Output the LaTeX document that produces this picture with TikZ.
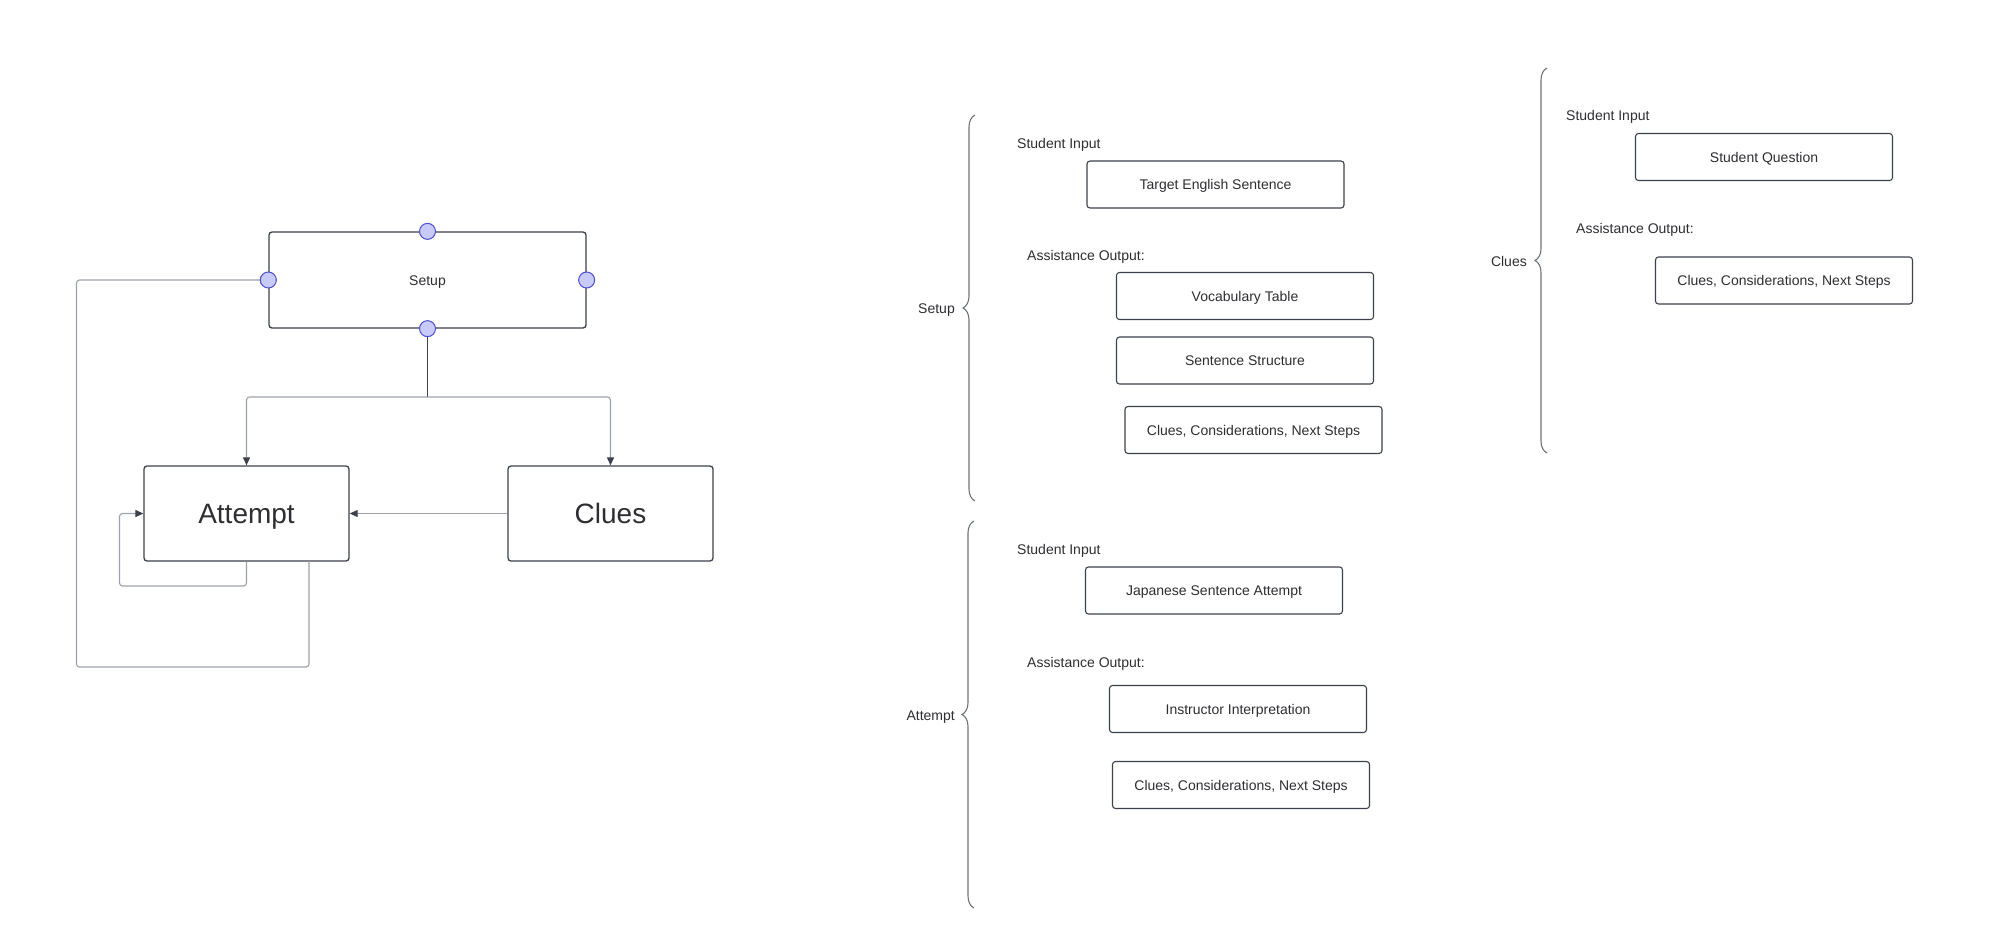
\documentclass[tikz,border=0pt]{standalone}
\usepackage{fontspec}
\setmainfont{Liberation Sans}
\usetikzlibrary{arrows.meta,decorations.pathreplacing}
\definecolor{boxline}{HTML}{3C414B}
\definecolor{conn}{HTML}{9EA2A8}
\definecolor{txt}{HTML}{2E2E33}
\definecolor{portfill}{HTML}{C8CAFA}
\definecolor{portline}{HTML}{4B50CF}
\definecolor{bracecol}{HTML}{6E727A}
\begin{document}
\begin{tikzpicture}[x=1pt,y=-1pt,
  every node/.style={text=txt,font=\fontsize{14}{16}\selectfont},
  mainbox/.style={draw=boxline,line width=1.3pt,rounded corners=3pt,fill=white,inner sep=0pt},
  bigtext/.style={font=\fontsize{28}{32}\selectfont,text height=20pt,text depth=0pt},
  smalltext/.style={text height=10pt,text depth=0pt},
  itembox/.style={draw=boxline,line width=1.1pt,rounded corners=3pt,fill=white,minimum width=257pt,minimum height=47pt,inner sep=0pt,smalltext},
  lbl/.style={anchor=west,inner sep=0pt,smalltext},
  port/.style={circle,draw=portline,fill=portfill,line width=1pt,minimum size=16pt,inner sep=0pt},
  link/.style={draw=conn,line width=1.1pt,rounded corners=3pt},
  tip/.style={-{Triangle[length=8pt,width=7pt]},arrows={-{Triangle[length=8pt,width=7pt,color=boxline]}}},
  curly/.style={draw=bracecol,line width=1.1pt,decorate,decoration={brace,amplitude=12pt}},
  sidelbl/.style={anchor=east,inner sep=0pt,smalltext}
]
\useasboundingbox[fill=white] (0,0) rectangle (1990,946);

% ---------------- left flow diagram ----------------
\node[mainbox,minimum width=317pt,minimum height=96pt,smalltext] (setup) at (427.5,280) {Setup};
\node[mainbox,minimum width=205pt,minimum height=95pt,bigtext] (attempt) at (246.5,513.5) {Attempt};
\node[mainbox,minimum width=205pt,minimum height=95pt,bigtext] (clues) at (610.5,513.5) {Clues};

\coordinate (junc) at (427.5,397);
\draw[draw=boxline,line width=1.1pt] (setup.south) -- (junc);
\draw[link,tip] (junc) -| (attempt.north);
\draw[link,tip] (junc) -| (clues.north);
\draw[link,tip] (clues.west) -- (attempt.east);

\coordinate (selfA) at (246.5,586);
\coordinate (selfB) at (119.5,586);
\coordinate (selfC) at (119.5,513.5);
\draw[link,tip] (attempt.south) -- (selfA) -- (selfB) -- (selfC) -- (attempt.west);

\coordinate (bigS) at (309,561);
\coordinate (bigA) at (309,667);
\coordinate (bigB) at (76.5,667);
\coordinate (bigC) at (76.5,280);
\draw[link,tip] (bigS) -- (bigA) -- (bigB) -- (bigC) -- (setup.west);

\node[port] (pt) at (setup.north) {};
\node[port] (pb) at (setup.south) {};
\node[port] (pl) at (setup.west) {};
\node[port] (pr) at (setup.east) {};

% ---------------- Setup group ----------------
\coordinate (sbB) at (975,501);
\coordinate (sbT) at (975,115);
\draw[curly] (sbB) -- (sbT);
\node[sidelbl] (setuplbl) at (955,308) {Setup};
\node[lbl] (s_in) at (1017,143) {Student Input};
\node[itembox] (s1) at (1215.5,184.5) {Target English Sentence};
\node[lbl] (s_out) at (1027,255) {Assistance Output:};
\node[itembox] (s2) at (1245,296) {Vocabulary Table};
\node[itembox] (s3) at (1245,360.5) {Sentence Structure};
\node[itembox] (s4) at (1253.5,430) {Clues, Considerations, Next Steps};

% ---------------- Clues group ----------------
\coordinate (cbB) at (1547,453);
\coordinate (cbT) at (1547,68);
\draw[curly] (cbB) -- (cbT);
\node[sidelbl] (clueslbl) at (1527,261) {Clues};
\node[lbl] (c_in) at (1566,115) {Student Input};
\node[itembox] (c1) at (1764,157) {Student Question};
\node[lbl] (c_out) at (1576,228) {Assistance Output:};
\node[itembox] (c2) at (1784,280.5) {Clues, Considerations, Next Steps};

% ---------------- Attempt group ----------------
\coordinate (abB) at (974,908);
\coordinate (abT) at (974,521);
\draw[curly] (abB) -- (abT);
\node[sidelbl] (attemptlbl) at (955,715) {Attempt};
\node[lbl] (a_in) at (1017,549) {Student Input};
\node[itembox] (a1) at (1214,590.5) {Japanese Sentence Attempt};
\node[lbl] (a_out) at (1027,662) {Assistance Output:};
\node[itembox] (a2) at (1238,709) {Instructor Interpretation};
\node[itembox] (a3) at (1241,785) {Clues, Considerations, Next Steps};
\end{tikzpicture}
\end{document}
